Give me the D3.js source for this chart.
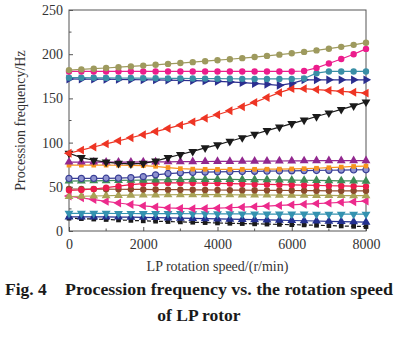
<!DOCTYPE html>
<html>
<head>
<meta charset="utf-8">
<script src="https://cdnjs.cloudflare.com/ajax/libs/d3/7.8.5/d3.min.js"></script>
<style>
    body { margin: 0; background: #fff; }
    #chart-area { width: 399px; height: 338px; }
    text { font-family: "Liberation Serif", "Times New Roman", serif; }
</style>
</head>
<body>
<div id="chart-area"></div>
<script>

// LP rotor speed (r/min), one point per step
let speeds = [0, 333, 667, 1000, 1333, 1667, 2000, 2333, 2667, 3000, 3333, 3667, 4000,
    4333, 4667, 5000, 5333, 5667, 6000, 6333, 6667, 7000, 7333, 7667, 8000];

// precession frequencies (Hz), one array per mode
let oliveCircles = [182, 182.8, 183.6, 184.4, 185.3, 186.2, 187.1, 188, 189, 190, 191, 192.1, 193.2,
    194.3, 195.5, 196.8, 198.1, 199.5, 201, 202.6, 204.3, 206.2, 208.3, 210.6, 213];
let pinkCircles = [180.5, 180.5, 180.5, 180.5, 180.5, 180.5, 180.5, 180.5, 180.5, 180.5, 180.5, 180.5, 180.5,
    180.5, 180.5, 180.5, 180.5, 180.5, 180.5, 181, 184.5, 189.5, 194.5, 200, 206];
let tealCircles = [173.5, 173.4, 173.3, 173.2, 173.1, 173, 172.9, 172.8, 172.7, 172.6, 172.5, 172.4, 172.3,
    172.2, 172.1, 172, 172, 172, 172, 172.5, 178.5, 180.5, 180.5, 180.5, 180.5];
let blueRight = [172, 171.9, 171.8, 171.7, 171.5, 171.3, 171.1, 170.9, 170.7, 170.5, 170.2, 169.8, 169.3,
    168.6, 167.8, 166.9, 165.9, 164.8, 167, 171, 171, 171, 171, 171, 171];
let redLeft = [88, 91.5, 95, 98.5, 102, 105.5, 109, 112.5, 116, 119.7, 123.5, 127.5, 131.5,
    136, 140.5, 145.5, 151, 156.5, 161, 161, 160, 159, 158, 157, 156];
let blackDown = [88, 83, 80, 78, 76.5, 76, 76.5, 79, 83, 86.5, 90, 94, 97.5,
    101.5, 105.5, 109.5, 113.5, 117.5, 121.5, 125.5, 129.5, 133.5, 137.5, 141.5, 146];
let purpleUp = [78, 78, 78, 78, 78, 78, 78.1, 78.2, 78.3, 78.4, 78.5, 78.6, 78.7,
    78.8, 78.9, 79, 79.1, 79.2, 79.3, 79.4, 79.5, 79.5, 79.5, 79.5, 79.5];
let orangeSquares = [74.5, 74.5, 74.5, 74.5, 74.4, 74.3, 74, 73.2, 71.8, 70.5, 70, 69.8, 69.7,
    69.7, 69.7, 69.8, 69.9, 70, 70.2, 70.5, 71, 71.6, 72.3, 73, 73.5];
let navyCircles = [59.5, 59.5, 59.5, 59.6, 59.8, 60.3, 61.5, 63.5, 65, 65.8, 66.3, 66.6, 66.9,
    67.1, 67.3, 67.5, 67.7, 67.9, 68.1, 68.3, 68.5, 68.7, 68.9, 69.1, 69.3];
let greenUp = [56.5, 56.6, 56.8, 57, 57.2, 57.4, 57.6, 57.8, 58, 58.2, 58.3, 58.4, 58.4,
    58.3, 58.2, 58.1, 58, 57.8, 57.6, 57.4, 57.2, 57, 56.8, 56.6, 56.4];
let redCircles = [46, 46.5, 47.5, 49, 50.8, 52.5, 53.6, 54.2, 54.4, 54.4, 54.3, 54.1, 53.9,
    53.6, 53.3, 53, 52.7, 52.4, 52.1, 51.8, 51.5, 51.2, 51, 50.8, 50.5];
let brownCircles = [47.5, 47.5, 47.4, 47.3, 47.2, 47.1, 47, 46.9, 46.8, 46.7, 46.6, 46.5, 46.4,
    46.3, 46.2, 46.1, 46, 45.9, 45.8, 45.7, 45.6, 45.5, 45.5, 45.5, 45.5];
let khakiUp = [39, 39.3, 39.6, 39.9, 40.2, 40.5, 40.7, 40.9, 41, 41.1, 41.1, 41.1, 41.1,
    41, 40.9, 40.8, 40.7, 40.6, 40.5, 40.4, 40.3, 40.2, 40.1, 40, 40];
let pinkLeft = [39.5, 37.5, 35.5, 33.5, 31.7, 30, 28.5, 27.2, 26.2, 25.6, 25.3, 25.4, 25.8,
    26.3, 26.9, 27.5, 28.2, 28.9, 29.6, 30.3, 31, 31.7, 32.4, 33.1, 33.8];
let tealDown = [20, 20, 19.9, 19.9, 19.8, 19.8, 19.7, 19.7, 19.6, 19.6, 19.5, 19.5, 19.4,
    19.4, 19.3, 19.3, 19.2, 19.2, 19.1, 19.1, 19, 19, 19, 19, 19];
let navyUp = [16, 16, 16, 15.9, 15.8, 15.7, 15.5, 15.2, 14.9, 14.6, 14.3, 14, 13.7,
    13.4, 13.1, 12.8, 12.5, 12.2, 11.9, 11.6, 11.3, 11, 10.7, 10.4, 10.1];
let blackSquares = [14.5, 14, 13.5, 13, 12.5, 12, 11.5, 11.1, 10.7, 10.3, 9.9, 9.5, 9.1,
    8.7, 8.4, 8.1, 7.8, 7.5, 7.2, 6.9, 6.5, 6.1, 5.7, 5.3, 5];

let xTicks = [0, 2000, 4000, 6000, 8000];
let yTicks = [0, 50, 100, 150, 200, 250];


class CampbellChart {

    constructor(parentElement) {
        this.parentElement = parentElement;

        // modes drawn bottom to top
        this.series = [
            {values: blackSquares, color: '#1a1a1a', marker: 'square', dash: '4,2'},
            {values: navyUp, color: '#23308f', marker: 'up'},
            {values: tealDown, color: '#3492b0', marker: 'down'},
            {values: pinkLeft, color: '#ec2a8c', marker: 'left'},
            {values: khakiUp, color: '#a8a256', marker: 'up'},
            {values: brownCircles, color: '#8c4a2c', marker: 'circle'},
            {values: redCircles, color: '#ec1b4b', marker: 'circle'},
            {values: greenUp, color: '#3f8a55', marker: 'up'},
            {values: navyCircles, color: '#3a3f96', marker: 'ring'},
            {values: orangeSquares, color: '#f7941d', marker: 'square'},
            {values: purpleUp, color: '#92278f', marker: 'up'},
            {values: blackDown, color: '#1a1a1a', marker: 'down'},
            {values: redLeft, color: '#ee3524', marker: 'left'},
            {values: blueRight, color: '#2b2e8f', marker: 'right'},
            {values: tealCircles, color: '#3a8fa6', marker: 'circle'},
            {values: pinkCircles, color: '#ec1c8c', marker: 'circle'},
            {values: oliveCircles, color: '#9e9a5e', marker: 'circle'}
        ];

        this.initVis();
    }

    initVis() {
        let vis = this;

        vis.margin = {top: 10, right: 33, bottom: 107, left: 69};
        vis.width = 399 - vis.margin.left - vis.margin.right;
        vis.height = 338 - vis.margin.top - vis.margin.bottom;

        vis.root = d3.select('#' + vis.parentElement).append('svg')
            .attr('width', 399)
            .attr('height', 338);

        vis.svg = vis.root.append('g')
            .attr('transform', `translate(${vis.margin.left},${vis.margin.top})`);

        vis.x = d3.scaleLinear().domain([0, 8000]).range([0, vis.width]);
        vis.y = d3.scaleLinear().domain([0, 250]).range([vis.height, 0]);

        // inward ticks, majors labelled, minors half way between
        vis.xAxis = d3.axisBottom(vis.x).tickValues(xTicks).tickFormat(d3.format('d'))
            .tickSizeInner(-4).tickSizeOuter(0).tickPadding(8);
        vis.yAxis = d3.axisLeft(vis.y).tickValues(yTicks).tickFormat(d3.format('d'))
            .tickSizeInner(-4).tickSizeOuter(0).tickPadding(6);

        vis.line = d3.line()
            .x((d, i) => vis.x(speeds[i]))
            .y(d => vis.y(d));

        vis.updateVis();
    }

    updateVis() {
        let vis = this;

        let gx = vis.svg.append('g')
            .attr('class', 'x-axis')
            .attr('transform', `translate(0,${vis.height})`)
            .call(vis.xAxis);
        let gy = vis.svg.append('g')
            .attr('class', 'y-axis')
            .call(vis.yAxis);

        // minor ticks
        gx.selectAll('.minor')
            .data([1000, 3000, 5000, 7000])
            .enter().append('line')
            .attr('x1', d => vis.x(d)).attr('x2', d => vis.x(d))
            .attr('y1', 0).attr('y2', -2.5)
            .attr('stroke', '#555');
        gy.selectAll('.minor')
            .data([25, 75, 125, 175, 225])
            .enter().append('line')
            .attr('y1', d => vis.y(d)).attr('y2', d => vis.y(d))
            .attr('x1', 0).attr('x2', 2.5)
            .attr('stroke', '#555');

        [gx, gy].forEach(g => {
            g.select('.domain').remove();
            g.selectAll('.tick line').attr('stroke', '#555');
            g.selectAll('.tick text')
                .attr('fill', '#333')
                .style('font-size', '14px');
        });

        // plot frame
        vis.svg.append('rect')
            .attr('width', vis.width)
            .attr('height', vis.height)
            .attr('fill', 'none')
            .attr('stroke', '#555')
            .attr('stroke-width', 1);

        let shapes = {
            circle: d3.symbol().type(d3.symbolCircle).size(32),
            ring: d3.symbol().type(d3.symbolCircle).size(30),
            square: d3.symbol().type(d3.symbolSquare).size(22),
            up: d3.symbol().type(d3.symbolTriangle).size(34),
            down: d3.symbol().type(d3.symbolTriangle).size(34),
            left: d3.symbol().type(d3.symbolTriangle).size(34),
            right: d3.symbol().type(d3.symbolTriangle).size(34)
        };
        let angle = {circle: 0, ring: 0, square: 0, up: 0, down: 180, left: -90, right: 90};

        let modes = vis.svg.selectAll('.mode')
            .data(vis.series)
            .enter().append('g')
            .attr('class', 'mode');

        modes.append('path')
            .attr('d', d => vis.line(d.values))
            .attr('fill', 'none')
            .attr('stroke', d => d.color)
            .attr('stroke-width', 1.2)
            .attr('stroke-dasharray', d => d.dash || null);

        modes.each(function(s) {
            d3.select(this).selectAll('.marker')
                .data(s.values)
                .enter().append('path')
                .attr('class', 'marker')
                .attr('d', shapes[s.marker])
                .attr('transform', (d, i) => `translate(${vis.x(speeds[i])},${vis.y(d)}) rotate(${angle[s.marker]})`)
                .attr('fill', s.marker === 'ring' ? '#8f93cf' : s.color)
                .attr('stroke', s.marker === 'ring' ? s.color : 'none')
                .attr('stroke-width', 1.2);
        });

        // axis titles
        vis.svg.append('text')
            .attr('x', vis.width / 2)
            .attr('y', vis.height + 40)
            .attr('text-anchor', 'middle')
            .attr('fill', '#333')
            .style('font-size', '14px')
            .text('LP rotation speed/(r/min)');

        vis.svg.append('text')
            .attr('transform', `translate(-44,${vis.height / 2}) rotate(-90)`)
            .attr('text-anchor', 'middle')
            .attr('fill', '#333')
            .style('font-size', '14px')
            .text('Procession frequency/Hz');

        // figure caption
        let caption = vis.root.append('g')
            .style('font-weight', 'bold')
            .style('font-size', '17.5px')
            .attr('fill', '#1a1a1a');
        caption.append('text').attr('x', 5).attr('y', 295).text('Fig. 4');
        caption.append('text').attr('x', 65).attr('y', 295)
            .attr('textLength', 328).attr('lengthAdjust', 'spacingAndGlyphs')
            .text('Procession frequency vs. the rotation speed');
        caption.append('text').attr('x', 199).attr('y', 321).attr('text-anchor', 'middle').text('of LP rotor');
    }
}

new CampbellChart('chart-area');

</script>
</body>
</html>
